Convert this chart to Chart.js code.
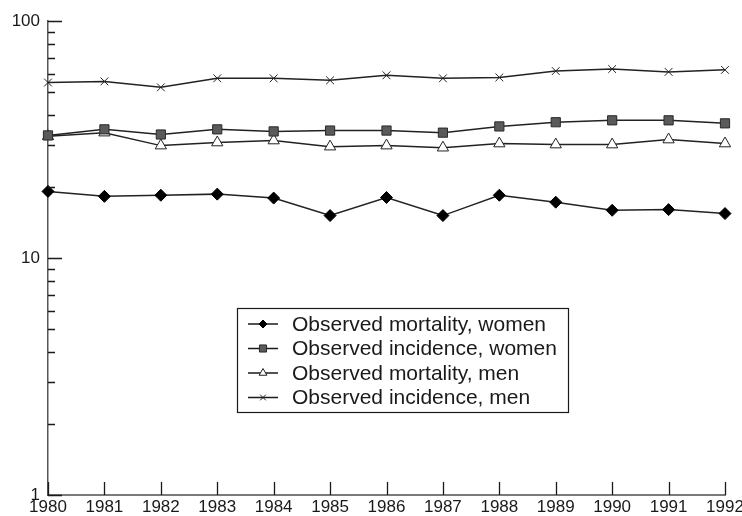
<!DOCTYPE html>
<html>
<head>
<meta charset="utf-8">
<script src="https://cdn.jsdelivr.net/npm/chart.js@4.4.0/dist/chart.umd.min.js"></script>
<style>
  html, body { margin: 0; background: #fff; }
  #wrap { width: 742px; height: 516px; position: relative; }
</style>
</head>
<body>
<div id="wrap"><canvas id="trendChart"></canvas></div>
<script>
// Data (log scale, per 100 000)
const years = ['1980', '1981', '1982', '1983', '1984', '1985', '1986',
               '1987', '1988', '1989', '1990', '1991', '1992'];
const mortalityWomen = [19.1, 18.2, 18.4, 18.6, 17.9, 15.1, 18.0, 15.1, 18.4, 17.2, 15.9, 16.0, 15.4];
const incidenceWomen = [32.9, 34.9, 33.2, 34.9, 34.2, 34.5, 34.5, 33.8, 35.9, 37.4, 38.1, 38.1, 37.0];
const mortalityMen   = [32.6, 33.8, 29.8, 30.7, 31.3, 29.5, 29.8, 29.2, 30.4, 30.1, 30.1, 31.6, 30.4];
const incidenceMen   = [55.0, 55.6, 52.5, 57.3, 57.3, 56.2, 59.0, 57.3, 57.8, 61.5, 62.7, 61.0, 62.2];

const yTicks = [1, 2, 3, 4, 5, 6, 7, 8, 9, 10, 20, 30, 40, 50, 60, 70, 80, 90, 100];
const yLabelled = [1, 10, 100];

const FONT = '"Liberation Sans", Arial, sans-serif';
const INK = '#1a1a1a';

// tick marks point into the plot, so draw them ourselves
const innerTicks = {
    id: 'innerTicks',
    afterDraw(chart) {
        const { ctx, chartArea, scales: { x, y } } = chart;
        ctx.save();
        ctx.strokeStyle = INK;
        ctx.lineWidth = 1.3;
        ctx.beginPath();
        yTicks.forEach(v => {
            const py = Math.round(y.getPixelForValue(v)) + 0.5;
            const len = yLabelled.includes(v) ? 14 : 7;
            ctx.moveTo(chartArea.left, py);
            ctx.lineTo(chartArea.left + len, py);
        });
        years.forEach((yr, i) => {
            const px = Math.round(x.getPixelForValue(i)) + 0.5;
            ctx.moveTo(px, chartArea.bottom);
            ctx.lineTo(px, chartArea.bottom - 13);
        });
        ctx.stroke();
        ctx.restore();
    }
};

// boxed legend sitting inside the plot area
const boxLegend = {
    id: 'boxLegend',
    afterDatasetsDraw(chart) {
        const ctx = chart.ctx;
        const left = 237, top = 308, w = 331, h = 104;
        ctx.save();
        ctx.fillStyle = '#fff';
        ctx.fillRect(left, top, w, h);
        ctx.strokeStyle = INK;
        ctx.lineWidth = 1.2;
        ctx.strokeRect(left + 0.5, top + 0.5, w, h);
        ctx.font = '21px ' + FONT;
        ctx.textBaseline = 'middle';
        chart.data.datasets.forEach((ds, i) => {
            const cy = top + 16 + i * 24.5;
            ctx.strokeStyle = INK;
            ctx.lineWidth = 1.5;
            ctx.beginPath();
            ctx.moveTo(left + 11, cy);
            ctx.lineTo(left + 41, cy);
            ctx.stroke();
            ctx.fillStyle = ds.pointBackgroundColor;
            ctx.strokeStyle = ds.pointBorderColor;
            ctx.lineWidth = 1;
            Chart.helpers.drawPoint(ctx, { pointStyle: ds.pointStyle, radius: ds.legendRadius, rotation: 0, borderWidth: 1 }, left + 26, cy);
            ctx.fillStyle = INK;
            ctx.fillText(ds.label, left + 55, cy + 1);
        });
        ctx.restore();
    }
};

function initializeTrendChart() {
    const ctx = document.getElementById('trendChart');
    if (!ctx) return;

    const line = (label, data, style, fill, border, radius, legendRadius) => ({
        label, data,
        borderColor: '#222',
        borderWidth: 1.5,
        tension: 0,
        pointStyle: style,
        pointRadius: radius,
        pointBackgroundColor: fill,
        pointBorderColor: border,
        pointBorderWidth: 1,
        legendRadius
    });

    new Chart(ctx, {
        type: 'line',
        data: {
            labels: years,
            datasets: [
                line('Observed mortality, women', mortalityWomen, 'rectRot', '#000', '#000', 6, 4),
                line('Observed incidence, women', incidenceWomen, 'rect', '#5a5a5a', '#2a2a2a', 6.5, 5),
                line('Observed mortality, men', mortalityMen, 'triangle', '#fff', '#222', 6.5, 4.5),
                line('Observed incidence, men', incidenceMen, 'crossRot', '#000', '#222', 5.5, 4)
            ]
        },
        options: {
            responsive: true,
            maintainAspectRatio: false,
            animation: false,
            layout: { padding: { top: 21, left: 0, right: 17, bottom: 0 } },
            plugins: { legend: { display: false }, tooltip: { enabled: false } },
            scales: {
                x: {
                    offset: false,
                    grid: { display: true, drawOnChartArea: false, drawTicks: false },
                    border: { display: true, color: '#7a7a7a', width: 2 },
                    ticks: { color: INK, font: { family: FONT, size: 17 }, padding: 2, maxRotation: 0, autoSkip: false },
                    afterFit(scale) { scale.height = 21; scale.paddingLeft = 0; scale.paddingRight = 0; }
                },
                y: {
                    type: 'logarithmic',
                    min: 1,
                    max: 100,
                    grid: { display: true, drawOnChartArea: false, drawTicks: false },
                    border: { display: true, color: '#555', width: 1.5 },
                    afterBuildTicks(scale) { scale.ticks = yTicks.map(v => ({ value: v })); },
                    ticks: {
                        autoSkip: false,
                        color: INK,
                        padding: 8,
                        font: { family: FONT, size: 17 },
                        callback: (value) => yLabelled.includes(value) ? String(value) : ''
                    },
                    afterFit(scale) { scale.width = 48; scale.paddingTop = 0; scale.paddingBottom = 0; }
                }
            }
        },
        plugins: [innerTicks, boxLegend]
    });
}

document.addEventListener('DOMContentLoaded', function () {
    initializeTrendChart();
});
</script>
</body>
</html>
